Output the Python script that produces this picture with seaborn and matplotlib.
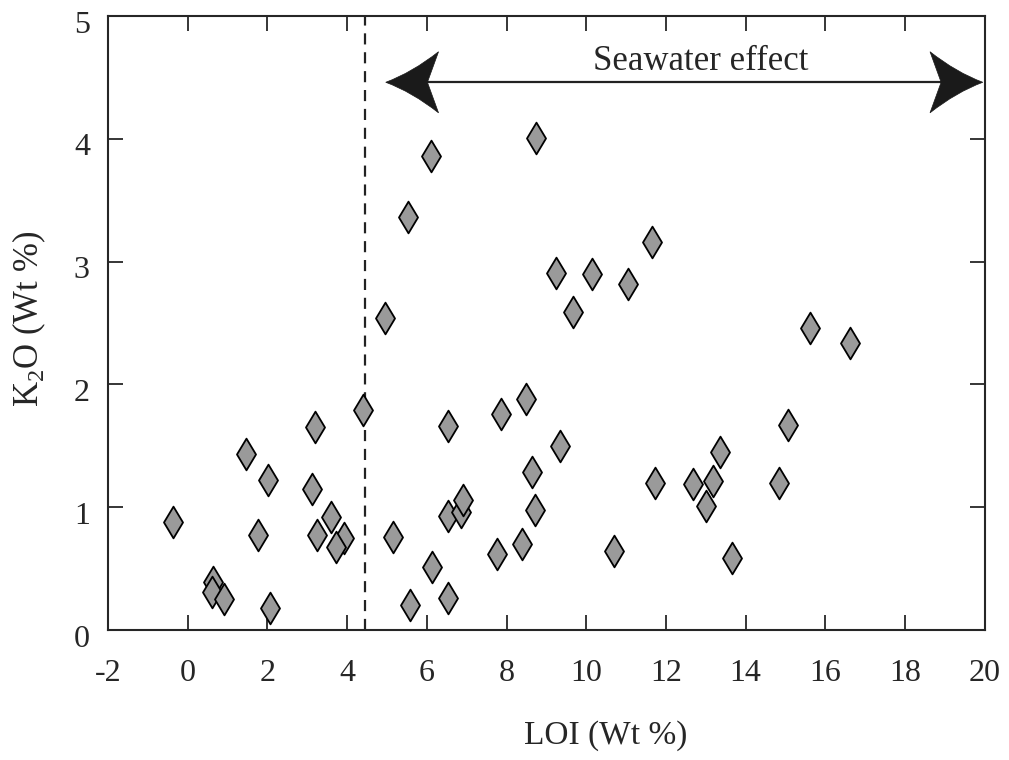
import matplotlib
matplotlib.use('Agg')
import matplotlib.pyplot as plt
import matplotlib.transforms as mtransforms
from matplotlib.path import Path
from matplotlib.patches import PathPatch
import seaborn as sns
import pandas as pd

# LOI vs K2O readings (Wt %)
loi = [-0.36, 0.64, 0.60, 0.92, 2.06, 1.46, 2.02, 1.76, 3.19, 3.12,
       3.24, 3.59, 3.91, 3.72, 4.40, 4.95, 5.14, 5.53, 5.59, 6.10,
       6.13, 6.52, 6.54, 6.54, 6.86, 6.91, 7.77, 7.86, 8.38, 8.50,
       8.63, 8.71, 8.75, 9.25, 9.35, 9.67, 10.15, 10.70, 11.05, 11.66,
       11.72, 12.69, 13.01, 13.18, 13.35, 13.65, 14.84, 15.07, 15.61, 16.61]
k2o = [0.88, 0.39, 0.31, 0.25, 0.18, 1.43, 1.22, 0.77, 1.65, 1.15,
       0.77, 0.92, 0.75, 0.68, 1.79, 2.54, 0.76, 3.36, 0.20, 3.86,
       0.51, 0.26, 1.66, 0.93, 0.96, 1.06, 0.62, 1.76, 0.70, 1.88,
       1.29, 0.98, 4.01, 2.91, 1.50, 2.59, 2.90, 0.64, 2.82, 3.16,
       1.20, 1.19, 1.01, 1.21, 1.45, 0.59, 1.20, 1.67, 2.46, 2.34]

x_ticks = list(range(-2, 21, 2))
y_ticks = [0, 1, 2, 3, 4, 5]
loi_cutoff = 4.45
arrow_start = 4.97
arrow_end = 19.95
arrow_y = 4.46
label_text = 'Seawater effect'

df = pd.DataFrame({'LOI': loi, 'K2O': k2o})

sns.set_style('ticks')
plt.rcParams['font.family'] = ['Liberation Serif', 'DejaVu Serif']
plt.rcParams['mathtext.fontset'] = 'custom'
plt.rcParams['mathtext.rm'] = 'Liberation Serif'
plt.rcParams['axes.unicode_minus'] = False

fig = plt.figure(figsize=(10.09, 7.6), dpi=100)
ax = fig.add_axes([0.107, 0.171, 0.869, 0.808])

sns.scatterplot(data=df, x='LOI', y='K2O', marker='d', s=260,
                color='#9a9a9a', edgecolor='black', linewidth=1.3, ax=ax, zorder=3)

ax.axvline(loi_cutoff, color='#222222', linestyle=(0, (5, 3.5)), linewidth=1.6, zorder=2)


def stealth_head(x, y, direction):
    # arrowhead drawn in points, anchored at its tip (x, y) in data coords
    L, W, N = 38, 22, 30
    verts = [(0, 0), (L * 0.5, W * 0.32), (L, W),
             (N, 0),
             (L, -W), (L * 0.5, -W * 0.32), (0, 0), (0, 0)]
    codes = [Path.MOVETO, Path.CURVE3, Path.CURVE3,
             Path.LINETO,
             Path.LINETO, Path.CURVE3, Path.CURVE3, Path.CLOSEPOLY]
    trans = (mtransforms.Affine2D().scale(direction / 72.0, 1 / 72.0)
             + fig.dpi_scale_trans
             + mtransforms.ScaledTranslation(x, y, ax.transData))
    patch = PathPatch(Path(verts, codes), transform=trans, facecolor='#1a1a1a',
                      edgecolor='#1a1a1a', lw=0.5, clip_on=False, zorder=4)
    ax.add_patch(patch)


ax.hlines(arrow_y, arrow_start + 0.5, arrow_end - 0.5, color='#222222', lw=1.6, zorder=3)
stealth_head(arrow_start, arrow_y, 1)
stealth_head(arrow_end, arrow_y, -1)
ax.text(12.88, 4.63, label_text, ha='center', va='center', fontsize=25)

ax.set_xlim(-2, 20)
ax.set_ylim(0, 5)
ax.set_xticks(x_ticks)
ax.set_yticks(y_ticks)
ax.tick_params(direction='in', length=11, width=1.3, labelsize=23,
               top=True, right=True)
ax.tick_params(axis='x', pad=21)
ax.tick_params(axis='y', pad=13)
for sp in ax.spines.values():
    sp.set_linewidth(1.5)
    sp.set_visible(True)

shift = mtransforms.ScaledTranslation(0, -4 / 72.0, fig.dpi_scale_trans)
for lab in ax.get_yticklabels():
    lab.set_transform(lab.get_transform() + shift)

ax.set_xlabel('LOI (Wt %)', fontsize=24)
ax.set_ylabel('K$_2$O (Wt %)', fontsize=25)
ax.xaxis.set_label_coords(0.568, -0.147)
ax.yaxis.set_label_coords(-0.068, 0.507)

plt.savefig('out.png', dpi=100)
